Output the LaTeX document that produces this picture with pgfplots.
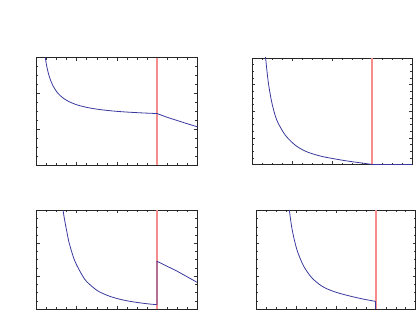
\documentclass[border=0pt]{standalone}
\usepackage{pgfplots}
\pgfplotsset{compat=1.18}
\definecolor{cblue}{rgb}{0.22,0.22,0.62}
\definecolor{cred}{rgb}{0.97,0.55,0.55}
\pgfplotsset{myax/.style={
  anchor=south west, scale only axis,
  xmin=0, xmax=4, xtick={0,1,2,3,4}, minor x tick num=3,
  ymin=0, minor y tick num=3,
  xticklabel=\empty, yticklabel=\empty,
  major tick length=3bp, minor tick length=1.8bp,
  axis line style={line width=0.7pt, black!85},
  every tick/.style={line width=0.5pt, black!80},
  tick align=inside,
}}
\begin{document}
\begin{tikzpicture}
\useasboundingbox (0,0) rectangle (416bp,327bp);
% top left
\begin{axis}[myax, at={(36.55bp,162bp)}, width=160.6bp, height=107.3bp, ymax=3, ytick={0,1,2,3}]
\addplot[draw=cred, line width=1.3bp] coordinates {(3,0) (3,3)};
\addplot[cblue, line width=0.8pt, smooth] coordinates {
(0.20,3.152) (0.22,2.985) (0.25,2.785) (0.30,2.540) (0.35,2.366) (0.40,2.235)
(0.50,2.051) (0.60,1.929) (0.70,1.841) (0.80,1.776) (1.00,1.684) (1.25,1.611)
(1.50,1.562) (1.75,1.527) (2.00,1.500) (2.25,1.480) (2.50,1.464) (2.75,1.450) (3.00,1.439)};
\addplot[cblue, line width=0.8pt] coordinates {(3.00,1.439) (3.25,1.335) (3.50,1.245) (3.75,1.155) (4.00,1.070)};
\end{axis}
% top right
\begin{axis}[myax, at={(252.45bp,162.5bp)}, width=159.4bp, height=106.5bp, ymax=4, ytick={0,1,2,3,4}]
\addplot[draw=cred, line width=1.3bp] coordinates {(3,0) (3,4)};
\addplot[cblue, line width=0.8pt, smooth] coordinates {
(0.30,4.50) (0.33,4.00) (0.40,3.06) (0.49,2.30) (0.61,1.67) (0.82,1.11) (1.07,0.73)
(1.30,0.52) (1.49,0.41) (1.75,0.30) (2.03,0.22) (2.30,0.15) (2.55,0.095) (2.80,0.045) (3.00,0.00)};
\addplot[cblue, line width=0.8pt] coordinates {(3,0) (4,0)};
\end{axis}
% bottom left
\begin{axis}[myax, at={(36.55bp,18bp)}, width=160.6bp, height=98.7bp, ymax=3, ytick={0,1,2,3}]
\addplot[draw=cred, line width=1.3bp] coordinates {(3,0) (3,3)};
\addplot[cblue, line width=0.8pt, smooth] coordinates {
(0.62,3.40) (0.66,3.00) (0.70,2.70) (0.75,2.38) (0.80,2.07) (0.87,1.76) (0.95,1.47)
(1.04,1.24) (1.15,1.00) (1.25,0.83) (1.50,0.57) (1.75,0.42) (2.00,0.32) (2.25,0.25)
(2.50,0.20) (2.75,0.16) (3.00,0.13)};
\addplot[cblue, line width=0.8pt] coordinates {(3,0.13) (3,1.45) (3.25,1.30) (3.50,1.15) (3.75,0.98) (4.00,0.81)};
\end{axis}
% bottom right
\begin{axis}[myax, at={(256.3bp,18bp)}, width=159.4bp, height=98.7bp, ymax=3, ytick={0,1,2,3}]
\addplot[draw=cred, line width=1.3bp] coordinates {(3,0) (3,3)};
\addplot[cblue, line width=0.8pt, smooth] coordinates {
(0.80,3.35) (0.83,3.00) (0.90,2.41) (1.02,1.80) (1.19,1.30) (1.40,0.94) (1.65,0.69)
(1.86,0.57) (2.05,0.49) (2.36,0.39) (2.69,0.30) (3.00,0.23)};
\addplot[cblue, line width=0.8pt] coordinates {(3,0.23) (3,0) (4,0)};
\end{axis}
\end{tikzpicture}
\end{document}
